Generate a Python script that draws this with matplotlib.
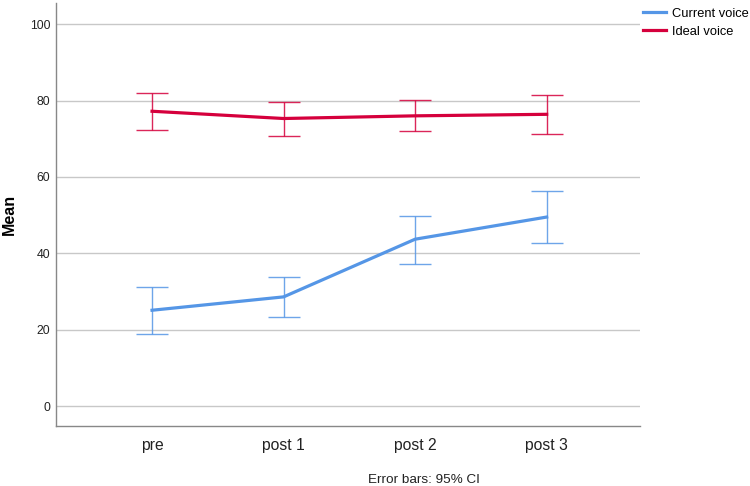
import matplotlib

matplotlib.use("Agg")
import matplotlib.pyplot as plt
import numpy as np

# Means and 95% CI bounds
timepoints = ["pre", "post 1", "post 2", "post 3"]
current_mean = [25.1, 28.6, 43.7, 49.5]
current_lo = [18.8, 23.3, 37.3, 42.8]
current_hi = [31.2, 33.7, 49.7, 56.3]
ideal_mean = [77.2, 75.3, 76.0, 76.4]
ideal_lo = [72.3, 70.8, 72.0, 71.2]
ideal_hi = [81.9, 79.7, 80.1, 81.5]

BLUE = "#5596E6"
RED = "#D5003C"

plt.rcParams["font.family"] = ["Liberation Sans", "DejaVu Sans"]

fig = plt.figure(figsize=(7.5, 4.86), dpi=100)
ax = fig.add_axes([0.0747, 0.1235, 0.7787, 0.870])
x = np.arange(len(timepoints))


def draw(mean, lo, hi, color, label):
    mean = np.asarray(mean)
    yerr = [mean - np.asarray(lo), np.asarray(hi) - mean]
    ax.errorbar(x, mean, yerr=yerr, fmt="none", ecolor=color, elinewidth=1.0,
                capsize=11.5, capthick=1.0, alpha=0.85, zorder=3)
    ax.plot(x, mean, color=color, lw=2.3, label=label, zorder=4)


draw(current_mean, current_lo, current_hi, BLUE, "Current voice")
draw(ideal_mean, ideal_lo, ideal_hi, RED, "Ideal voice")

ax.set_xlim(-0.73, 3.71)
ax.set_ylim(-5.2, 105.5)
ax.set_yticks([0, 20, 40, 60, 80, 100])
ax.set_xticks(x)
ax.set_xticklabels(timepoints, fontsize=11.3, color="#222222")
ax.tick_params(axis="y", labelsize=8.8, colors="#222222", length=0, pad=4)
ax.tick_params(axis="x", length=0, pad=9)
ax.yaxis.grid(True, color="#c8c8c8", lw=1.0)
ax.set_axisbelow(True)
for s in ["top", "right"]:
    ax.spines[s].set_visible(False)
for s in ["left", "bottom"]:
    ax.spines[s].set_color("#888888")
    ax.spines[s].set_linewidth(1.0)
ax.set_ylabel("Mean", fontsize=11.5, fontweight="bold")
ax.yaxis.set_label_coords(-0.067, 0.5)

fig.legend(loc="upper left", bbox_to_anchor=(643 / 750, 0.984), frameon=False,
           fontsize=9.3, handlelength=1.78, handletextpad=0.46, labelspacing=0.45,
           borderpad=0, borderaxespad=0)

fig.text(0.565, 0.006, "Error bars: 95% CI", ha="center", va="baseline",
         fontsize=9.7, color="#222222")

fig.savefig("out.png", dpi=100)
